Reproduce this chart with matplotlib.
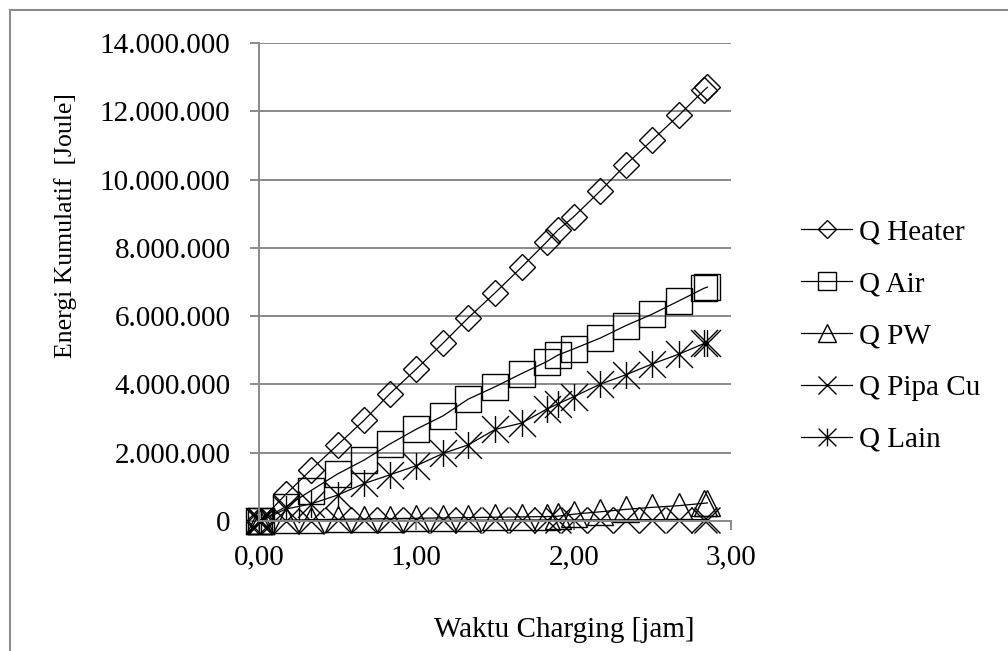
import matplotlib
matplotlib.use("Agg")
import matplotlib.pyplot as plt
from matplotlib.path import Path
from matplotlib.lines import Line2D
from matplotlib.ticker import FuncFormatter, MultipleLocator

plt.rcParams['font.family'] = ['Liberation Serif', 'DejaVu Serif']

# waktu charging [jam]
waktu = [0.00, 0.01, 0.17, 0.33, 0.50, 0.67, 0.83, 1.00, 1.17, 1.33, 1.50,
         1.67, 1.83, 1.90, 2.00, 2.17, 2.33, 2.50, 2.67, 2.83, 2.85]

# energi kumulatif [Joule]
q_heater = [0, 0, 780000, 1500000, 2230000, 2960000, 3720000, 4450000, 5210000,
            5950000, 6680000, 7440000, 8180000, 8520000, 8910000, 9670000,
            10430000, 11160000, 11890000, 12620000, 12700000]
q_air = [0, 0, 420000, 890000, 1380000, 1790000, 2250000, 2690000, 3080000,
         3570000, 3930000, 4320000, 4670000, 4860000, 5040000, 5360000,
         5720000, 6060000, 6450000, 6820000, 6850000]
q_pw = [0, 0, 20000, 40000, 50000, 60000, 70000, 80000, 90000, 100000, 110000,
        120000, 130000, 140000, 200000, 270000, 340000, 400000, 450000, 520000,
        530000]
q_pipa = [0, 0, 10000, 10000, 15000, 15000, 20000, 20000, 20000, 25000, 25000,
          30000, 30000, 30000, 30000, 35000, 35000, 40000, 40000, 40000, 40000]
q_lain = [0, 0, 350000, 500000, 760000, 1100000, 1350000, 1620000, 1980000,
          2230000, 2680000, 2870000, 3280000, 3430000, 3640000, 4010000,
          4280000, 4600000, 4890000, 5200000, 5220000]

labels = ['Q Heater', 'Q Air', 'Q PW', 'Q Pipa Cu', 'Q Lain']

# bintang excel: x + garis tegak
bintang = Path([(-1, -1), (1, 1), (-1, 1), (1, -1), (0, -1), (0, 1)],
               [Path.MOVETO, Path.LINETO, Path.MOVETO, Path.LINETO,
                Path.MOVETO, Path.LINETO])

markers = ['D', 's', '^', 'x', bintang]
msizes = [13.7, 18.7, 19.0, 19.4, 19.4]
series = [q_heater, q_air, q_pw, q_pipa, q_lain]

fs = 21

fig = plt.figure(figsize=(10.08, 6.51), dpi=100)
ax = fig.add_axes([259/1008, 1 - 521/651, (731 - 259)/1008, (521 - 43)/651])

for y, m, s in zip(series, markers, msizes):
    ax.plot(waktu, y, color='black', lw=0.9, marker=m, ms=s, mfc='none',
            mec='black', mew=1.0, clip_on=False)

ax.set_xlim(0, 3)
ax.set_ylim(0, 14000000)
ax.xaxis.set_major_locator(MultipleLocator(1))
ax.yaxis.set_major_locator(MultipleLocator(2000000))
ax.xaxis.set_major_formatter(FuncFormatter(lambda v, p: f"{v:.2f}".replace('.', ',')))
ax.yaxis.set_major_formatter(FuncFormatter(lambda v, p: f"{int(round(v)):,}".replace(',', '.')))

grey = '#898989'
ax.set_axisbelow(True)
ax.yaxis.grid(True, color=grey, lw=1.4)
for sp in ['top', 'right']:
    ax.spines[sp].set_visible(False)
for sp in ['left', 'bottom']:
    ax.spines[sp].set_color(grey)
    ax.spines[sp].set_linewidth(1.4)
ax.tick_params(axis='both', direction='out', length=6.5, width=1.4,
               color=grey, labelsize=fs)
ax.tick_params(axis='y', pad=14)
ax.tick_params(axis='x', pad=10)

fig.text(66/1008, 1 - 226/651, 'Energi Kumulatif  [Joule]', rotation=90,
         ha='center', va='center', fontsize=18.5)
fig.text(564/1008, 1 - 630/651, 'Waktu Charging [jam]', ha='center',
         va='center', fontsize=fs)

handles = [Line2D([], [], color='black', lw=0.9, marker=m, ms=s * 0.66,
                  mfc='none', mec='black', mew=1.0)
           for m, s in zip(markers, msizes)]
fig.legend(handles, labels, loc='center left',
           bbox_to_anchor=(801/1008, 1 - 336/651), frameon=False,
           fontsize=fs, borderpad=0, borderaxespad=0, handlelength=1.75,
           handletextpad=0.25, labelspacing=0.87)

# bingkai area grafik
fig.add_artist(Line2D([9.5/1008, 1], [1 - 9.5/651, 1 - 9.5/651],
                      color='#8c8c8c', lw=1.5))
fig.add_artist(Line2D([9.5/1008, 9.5/1008], [0, 1 - 9.5/651],
                      color='#8c8c8c', lw=1.5))

fig.savefig('out.png', dpi=100)
